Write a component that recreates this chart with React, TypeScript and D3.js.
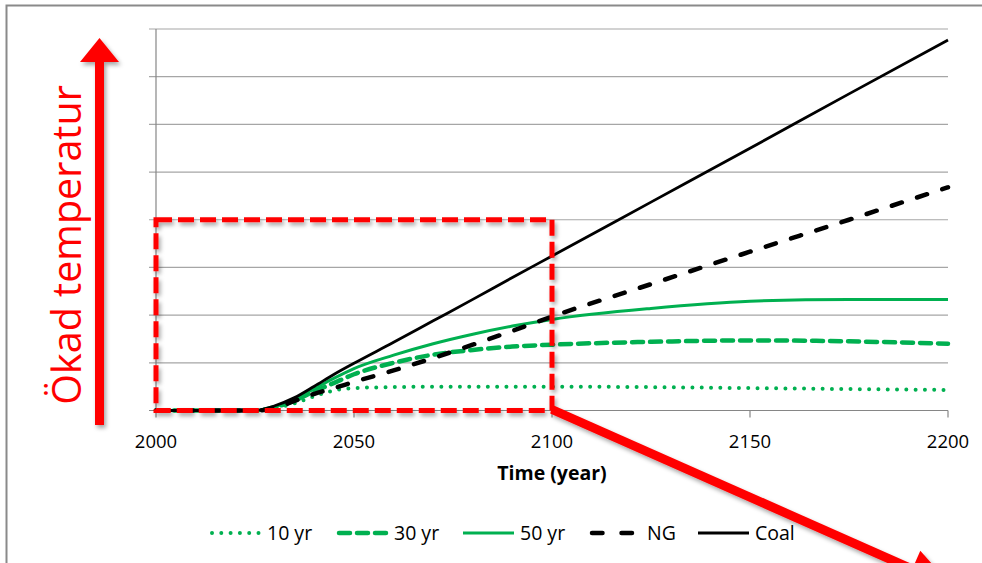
import React from "react";
import * as d3 from "d3";

const years = [2000, 2010, 2020, 2025, 2030, 2035, 2040, 2045, 2050, 2060, 2070, 2080, 2090, 2100, 2125, 2150, 2175, 2200];
const coal = [0, 0, 0, 0, 0.1, 0.27, 0.51, 0.76, 0.99, 1.43, 1.88, 2.33, 2.79, 3.24, 4.37, 5.5, 6.64, 7.77];
const ng = [0, 0, 0, 0, 0.05, 0.2, 0.35, 0.47, 0.6, 0.84, 1.1, 1.38, 1.67, 1.97, 2.65, 3.33, 4.0, 4.68];
const yr50 = [0, 0, 0, 0, 0.08, 0.24, 0.46, 0.68, 0.88, 1.16, 1.4, 1.6, 1.77, 1.91, 2.14, 2.29, 2.33, 2.33];
const yr30 = [0, 0, 0, 0, 0.07, 0.21, 0.4, 0.58, 0.76, 1.0, 1.17, 1.27, 1.34, 1.38, 1.44, 1.47, 1.45, 1.4];
const yr10 = [0, 0, 0, 0, 0.05, 0.15, 0.3, 0.42, 0.47, 0.49, 0.5, 0.5, 0.5, 0.5, 0.49, 0.47, 0.45, 0.43];

const xTicks = [2000, 2050, 2100, 2150, 2200];
const yGrid = [0, 1, 2, 3, 4, 5, 6, 7, 8];

const GREEN = "#00B050";
const RED = "#FF0000";
const FONT = "'Open Sans', Lato, sans-serif";

type Series = { name: string; values: number[]; color: string; width: number; dash?: string; cap: "round" | "butt" };

const series: Series[] = [
  { name: "10 yr", values: yr10, color: GREEN, width: 4, dash: "0 9.3", cap: "round" },
  { name: "30 yr", values: yr30, color: GREEN, width: 4.5, dash: "11 7", cap: "round" },
  { name: "50 yr", values: yr50, color: GREEN, width: 3, cap: "butt" },
  { name: "NG", values: ng, color: "#000", width: 4.5, dash: "10.5 16", cap: "round" },
  { name: "Coal", values: coal, color: "#000", width: 2.8, cap: "butt" },
];

const legendX = [210, 337, 463, 590, 698];

export default function App() {
  const x = d3.scaleLinear().domain([2000, 2200]).range([156, 948]);
  const y = d3.scaleLinear().domain([0, 8]).range([410.5, 29]);
  const line = d3
    .line<number>()
    .x((_, i) => x(years[i]))
    .y((v) => y(v))
    .curve(d3.curveMonotoneX);

  // diagonal arrow
  const ax0 = x(2100);
  const ay0 = y(0) - 1;
  const ang = Math.atan(0.443);
  const dx = Math.cos(ang);
  const dy = Math.sin(ang);
  const shaftLen = 394;
  const px = ax0 + dx * shaftLen;
  const py = ay0 + dy * shaftLen;
  const nx = Math.sin(ang);
  const ny = -Math.cos(ang);
  const hw = 20;
  const hl = 44;
  const head = [
    [px + nx * hw, py + ny * hw],
    [px + dx * hl, py + dy * hl],
    [px - nx * hw, py - ny * hw],
  ];

  return (
    <svg width={982} height={563} style={{ position: "absolute", left: 0, top: 0, background: "#fff" }} fontFamily={FONT}>
      <defs>
        <filter id="sh" x="-20%" y="-20%" width="140%" height="140%">
          <feDropShadow dx="2" dy="3" stdDeviation="2" floodColor="#000" floodOpacity="0.35" />
        </filter>
      </defs>
      <rect x={0} y={0} width={982} height={563} fill="#fff" />
      {/* outer border */}
      <path d="M6.5,563 L6.5,5.5 L982,5.5" fill="none" stroke="#8a8a8a" strokeWidth={2} />

      {/* gridlines */}
      {yGrid.map((g) => (
        <line key={g} x1={149} x2={948} y1={y(g)} y2={y(g)} stroke={g === 0 ? "#868686" : "#a6a6a6"} strokeWidth={1.2} />
      ))}
      {/* y axis */}
      <line x1={156} x2={156} y1={y(8)} y2={y(0)} stroke="#868686" strokeWidth={1.2} />
      {/* x ticks */}
      {xTicks.map((t) => (
        <g key={t}>
          <line x1={x(t)} x2={x(t)} y1={y(0)} y2={y(0) + 7} stroke="#868686" strokeWidth={1.2} />
          <text x={x(t)} y={448} textAnchor="middle" fontSize={18.5} fill="#000">
            {t}
          </text>
        </g>
      ))}
      <text x={552} y={480} textAnchor="middle" fontSize={19.5} fontWeight="bold" fill="#000">
        Time (year)
      </text>

      {/* series */}
      {series.map((s) => (
        <path
          key={s.name}
          d={line(s.values) || ""}
          fill="none"
          stroke={s.color}
          strokeWidth={s.width}
          strokeDasharray={s.dash}
          strokeLinecap={s.cap}
          strokeLinejoin="round"
        />
      ))}

      {/* legend */}
      {series.map((s, i) => (
        <g key={s.name}>
          <line
            x1={legendX[i] + (s.cap === "round" ? 2 : 0)}
            x2={legendX[i] + 51}
            y1={533}
            y2={533}
            stroke={s.color}
            strokeWidth={s.width}
            strokeDasharray={s.name === "NG" ? "10.5 19" : s.dash}
            strokeLinecap={s.cap}
          />
          <text x={legendX[i] + 57} y={540} fontSize={19.5} fill="#000">
            {s.name}
          </text>
        </g>
      ))}

      {/* red annotations */}
      <g filter="url(#sh)">
        <rect
          x={x(2000)}
          y={y(4)}
          width={x(2100) - x(2000)}
          height={y(0) - y(4)}
          fill="none"
          stroke={RED}
          strokeWidth={5}
          strokeDasharray="16 6"
        />
        <line x1={99.5} x2={99.5} y1={425} y2={60} stroke={RED} strokeWidth={9} />
        <polygon points="80,62 99.5,38 119,62" fill={RED} />
        <line x1={ax0} y1={ay0} x2={px + dx * 2} y2={py + dy * 2} stroke={RED} strokeWidth={9} />
        <polygon points={head.map((p) => p.join(",")).join(" ")} fill={RED} />
      </g>
      <text
        transform="translate(81,245) rotate(-90)"
        textAnchor="middle"
        fontSize={39.5}
        fill={RED}
      >
        Ökad temperatur
      </text>
    </svg>
  );
}
